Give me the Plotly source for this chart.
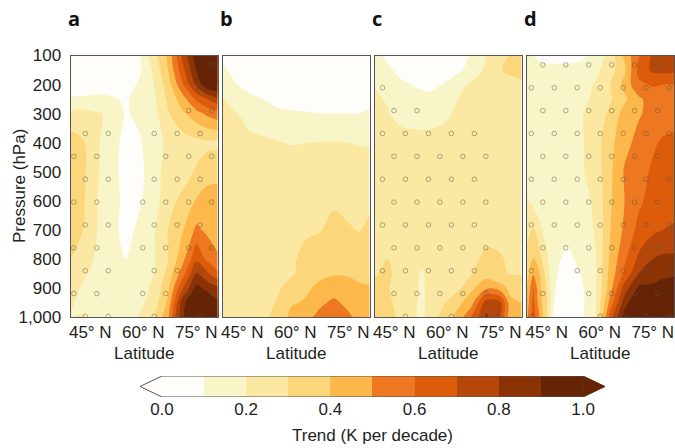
import plotly.graph_objects as go

W, H = 675, 448
FONT = "Liberation Sans"
TEXT = "#231f20"

levels = [0.0, 0.1, 0.2, 0.3, 0.4, 0.5, 0.6, 0.7, 0.8, 0.9, 1.0]
colors = ["#FFFDFA", "#F8F6C8", "#FBE9A3", "#FCD67A", "#FCB84A",
          "#EE7722", "#DD5C0B", "#B5470A", "#8C3306", "#642405"]
bin_mid = [0.05, 0.15, 0.25, 0.35, 0.45, 0.55, 0.65, 0.75, 0.85, 0.95]
bar_ticks = [0.0, 0.2, 0.4, 0.6, 0.8, 1.0]

pressure = [100, 150, 200, 250, 300, 400, 500, 600, 700, 800, 850, 900, 950, 1000]
pressure_ticks = [100, 200, 300, 400, 500, 600, 700, 800, 900, 1000]
pressure_labels = ["100", "200", "300", "400", "500", "600", "700", "800", "900", "1,000"]
lat = [39.4, 43, 47, 51, 55, 59, 63, 67, 71, 75, 78, 81]
lat_c = [39.4, 43, 47, 51, 52.55, 55, 59, 63, 67, 71, 75, 78, 81]
lat_d = [39.4, 41.2, 43, 44.9, 47, 51, 55, 59, 63, 67, 71, 75, 78, 81]
lat_ticks = [45, 60, 75]
lat_labels = ["45° N", "60° N", "75° N"]

trend_a = [
    [.05, .03, .03, .03, .05, .09, .27, .42, .72, .95, 1.05, 1.1],
    [.05, .04, .04, .04, .05, .09, .22, .40, .66, .90, 1.05, 1.1],
    [.07, .06, .06, .06, .07, .11, .20, .35, .58, .82, .98, 1.0],
    [.11, .11, .12, .11, .09, .13, .18, .32, .45, .62, .70, .78],
    [.23, .24, .21, .18, .09, .12, .17, .29, .38, .46, .52, .56],
    [.35, .31, .21, .15, .06, .09, .16, .22, .25, .27, .28, .28],
    [.36, .32, .21, .14, .06, .07, .17, .23, .26, .31, .34, .36],
    [.35, .31, .20, .13, .08, .09, .15, .27, .32, .41, .46, .46],
    [.33, .30, .20, .13, .07, .12, .19, .30, .39, .52, .48, .44],
    [.30, .25, .18, .12, .10, .14, .19, .30, .46, .68, .58, .52],
    [.27, .22, .16, .12, .12, .15, .20, .33, .55, .80, .72, .62],
    [.25, .18, .15, .13, .13, .16, .22, .38, .68, .93, .87, .82],
    [.22, .16, .14, .12, .13, .17, .25, .42, .85, 1.05, 1.0, .92],
    [.20, .21, .16, .14, .13, .21, .29, .48, .88, 1.05, 1.1, 1.0],
]
trend_b = [
    [.07, .03, .02, .02, .02, .02, .02, .03, .03, .03, .03, .03],
    [.12, .07, .05, .04, .04, .04, .04, .04, .04, .03, .03, .04],
    [.16, .105, .07, .05, .05, .05, .05, .05, .05, .06, .06, .06],
    [.205, .15, .12, .10, .07, .07, .07, .07, .07, .08, .08, .08],
    [.23, .21, .16, .13, .12, .11, .105, .10, .10, .10, .10, .11],
    [.25, .24, .23, .22, .205, .195, .20, .203, .205, .20, .195, .19],
    [.26, .26, .26, .25, .25, .25, .25, .25, .25, .25, .25, .25],
    [.26, .26, .26, .26, .26, .26, .26, .27, .28, .27, .27, .28],
    [.26, .26, .26, .26, .27, .28, .29, .295, .34, .31, .295, .32],
    [.26, .26, .27, .27, .28, .29, .32, .35, .37, .37, .37, .37],
    [.26, .26, .27, .27, .285, .29, .33, .38, .39, .39, .385, .38],
    [.27, .27, .27, .28, .29, .33, .385, .42, .45, .43, .41, .405],
    [.27, .27, .27, .28, .305, .39, .41, .48, .52, .47, .44, .43],
    [.27, .27, .27, .28, .33, .43, .47, .53, .58, .52, .47, .44],
]
trend_c = [
    [.14, .08, .05, .04, .04, .04, .05, .07, .11, .20, .26, .31, .34],
    [.15, .12, .07, .05, .05, .04, .05, .08, .14, .22, .295, .32, .34],
    [.195, .16, .115, .095, .09, .07, .105, .17, .22, .24, .25, .27, .28],
    [.22, .19, .14, .12, .12, .13, .16, .20, .23, .24, .25, .25, .25],
    [.25, .21, .16, .14, .14, .14, .175, .22, .24, .25, .25, .25, .25],
    [.25, .25, .25, .25, .25, .25, .25, .25, .25, .25, .25, .25, .25],
    [.25, .25, .25, .25, .25, .25, .25, .25, .25, .25, .25, .25, .25],
    [.25, .25, .25, .25, .25, .25, .25, .25, .25, .25, .25, .25, .25],
    [.25, .26, .26, .26, .26, .26, .26, .26, .26, .27, .26, .26, .26],
    [.27, .30, .27, .26, .25, .26, .27, .28, .28, .32, .31, .28, .27],
    [.29, .32, .26, .25, .18, .24, .25, .27, .30, .35, .31, .295, .295],
    [.32, .31, .25, .23, .17, .24, .26, .28, .38, .48, .44, .37, .35],
    [.33, .33, .25, .22, .165, .24, .29, .37, .47, .75, .72, .42, .40],
    [.35, .35, .27, .21, .16, .25, .34, .44, .60, .82, .70, .42, .42],
]
trend_d = [
    [.11, .10, .09, .08, .08, .08, .09, .12, .25, .42, .59, .72, .74, .74],
    [.13, .12, .115, .115, .115, .115, .12, .18, .26, .38, .63, .72, .73, .72],
    [.13, .13, .13, .13, .13, .14, .17, .21, .30, .43, .58, .61, .60, .60],
    [.17, .16, .15, .15, .15, .16, .18, .22, .29, .38, .48, .55, .55, .55],
    [.20, .17, .16, .16, .16, .17, .195, .25, .32, .44, .49, .53, .53, .55],
    [.20, .17, .16, .16, .16, .17, .19, .26, .37, .47, .53, .58, .62, .63],
    [.20, .16, .15, .15, .15, .16, .19, .25, .38, .51, .55, .62, .66, .66],
    [.21, .17, .15, .15, .15, .16, .17, .22, .39, .50, .58, .64, .67, .67],
    [.27, .31, .22, .17, .15, .14, .16, .21, .40, .52, .63, .68, .70, .71],
    [.33, .41, .33, .22, .13, .07, .14, .20, .42, .58, .72, .80, .82, .82],
    [.36, .49, .40, .26, .12, .05, .11, .20, .44, .62, .80, .85, .87, .88],
    [.40, .60, .42, .30, .11, .04, .09, .20, .46, .75, .92, .92, .95, .97],
    [.45, .63, .44, .33, .10, .04, .08, .20, .54, .85, 1.02, 1.05, 1.05, 1.05],
    [.48, .65, .50, .30, .09, .04, .09, .20, .66, .95, 1.05, 1.1, 1.1, 1.1],
]

# Significance stippling: row index k from the bottom, column index j
sig_p0, sig_dp = 998, 78.7
sig_dlat = 3.25
sig_lat0 = {"a": 40.34, "c": 41.66, "d": 40.62}
sig_a = {11: [12], 10: [11], 9: [10, 12], 8: [1, 3, 7, 9, 11], 7: [0, 2, 8, 10, 12],
         6: [1, 3, 7, 9, 11], 5: [0, 2, 6, 8, 10, 12], 4: [1, 3, 7, 9, 11],
         3: [0, 2, 6, 8, 10, 12], 2: [1, 3, 7, 9, 11], 1: [0, 2, 6, 8, 10, 12],
         0: [1, 3, 7, 9, 11]}
sig_c = {10: [0], 9: [1, 3], 8: [0, 2, 4, 6, 8], 7: [1, 3, 5, 7, 9], 6: [0, 2, 4, 6, 8],
         5: [1, 3, 5, 7, 9], 4: [0, 2, 4, 6, 8], 3: [1, 3, 5, 7, 9], 2: [0, 2, 4, 6, 8],
         1: [1, 3, 5, 7, 9], 0: [2, 6, 8, 10]}
sig_d = {11: [1, 3, 5, 7, 9, 11], 10: [0, 2, 4, 6, 8, 10, 12], 9: [1, 3, 5, 7, 9, 11],
         8: [0, 2, 4, 6, 8, 10, 12], 7: [1, 3, 5, 7, 9, 11], 6: [0, 2, 4, 6, 8, 10, 12],
         5: [1, 3, 5, 7, 9, 11], 4: [0, 2, 4, 6, 8, 10, 12], 3: [1, 3, 5, 7, 9, 11],
         2: [0, 4, 6, 8, 10, 12], 1: [1, 5, 7, 9, 11], 0: [0, 6, 8, 10, 12]}

panels = [
    ("a", lat, trend_a, sig_a, 70.5, 217.5),
    ("b", lat, trend_b, None, 222.5, 369.5),
    ("c", lat_c, trend_c, sig_c, 374.5, 521.5),
    ("d", lat_d, trend_d, sig_d, 527, 674),
]
TOP, BOTTOM = 55.5, 317

scale = []
for i, c in enumerate(colors):
    scale += [[i / len(colors), c], [(i + 1) / len(colors), c]]

fig = go.Figure()
layout = {}
annotations = []
for n, (name, xs, z, sig, x0, x1) in enumerate(panels):
    sfx = "" if n == 0 else str(n + 1)
    ax, ay = "x" + sfx, "y" + sfx
    fig.add_trace(go.Contour(
        x=xs, y=pressure, z=z, xaxis=ax, yaxis=ay, zmin=0, zmax=1, colorscale=scale,
        showscale=False, hoverinfo="skip",
        contours=dict(start=0, end=1, size=0.1, coloring="fill", showlines=False),
        line=dict(width=0),
    ))
    if sig:
        px, py = [], []
        for k, js in sig.items():
            for j in js:
                px.append(sig_lat0[name] + sig_dlat * j)
                py.append(sig_p0 - sig_dp * k)
        fig.add_trace(go.Scatter(
            x=px, y=py, xaxis=ax, yaxis=ay, mode="markers", hoverinfo="skip", showlegend=False,
            marker=dict(symbol="circle-open", size=4.6, color="rgba(95,85,65,0.6)",
                        line=dict(width=0.8, color="rgba(95,85,65,0.6)")),
        ))
    layout["xaxis" + sfx] = dict(
        domain=[x0 / W, x1 / W], range=[39.4, 81], anchor=ay, tickmode="array",
        tickvals=lat_ticks, ticktext=lat_labels, ticks="", showgrid=False, zeroline=False,
        showline=True, mirror=True, linecolor="#555555", linewidth=1, automargin=False,
        tickfont=dict(family=FONT, size=17, color=TEXT),
    )
    layout["yaxis" + sfx] = dict(
        domain=[1 - BOTTOM / H, 1 - TOP / H], range=[1000, 100], anchor=ax, tickmode="array",
        tickvals=pressure_ticks, ticktext=pressure_labels if n == 0 else [""] * 10,
        ticks="", showgrid=False, zeroline=False, showline=True, mirror=True,
        linecolor="#555555", linewidth=1, ticklabelstandoff=5, automargin=False,
        tickfont=dict(family=FONT, size=17, color=TEXT),
    )
    annotations.append(dict(
        text="<b>%s</b>" % name, xref="paper", yref="paper", x=(x0 - 5) / W, y=1 - 18.5 / H,
        xanchor="left", yanchor="middle", showarrow=False,
        font=dict(family="Open Sans", size=20, color="#111111"),
    ))
    annotations.append(dict(
        text="Latitude", xref="paper", yref="paper", x=(x0 + x1) / 2 / W, y=1 - 353 / H,
        xanchor="center", yanchor="middle", showarrow=False,
        font=dict(family=FONT, size=17, color=TEXT),
    ))
annotations.append(dict(
    text="Pressure (hPa)", xref="paper", yref="paper", x=19 / W, y=1 - 186 / H, textangle=-90,
    xanchor="center", yanchor="middle", showarrow=False,
    font=dict(family=FONT, size=17, color=TEXT),
))
annotations.append(dict(
    text="Trend (K per decade)", xref="paper", yref="paper", x=372.5 / W, y=1 - 435 / H,
    xanchor="center", yanchor="middle", showarrow=False,
    font=dict(family=FONT, size=17, color=TEXT),
))

# Colour bar as its own small axes
BX0, BX1, BY0, BY1 = 140, 605, 376, 397
tip = (162 - 140) / 422
fig.add_trace(go.Heatmap(
    x=levels, y=[0, 1], z=[bin_mid], xaxis="x5", yaxis="y5", zmin=0, zmax=1,
    colorscale=scale, showscale=False, hoverinfo="skip",
))
fig.add_trace(go.Scatter(
    x=[0, -tip, 0], y=[0, 0.5, 1], xaxis="x5", yaxis="y5", mode="lines", fill="toself",
    fillcolor=colors[0], line=dict(color="#555555", width=1), hoverinfo="skip", showlegend=False,
))
fig.add_trace(go.Scatter(
    x=[1, 1 + tip, 1, 1], y=[0, 0.5, 1, 0], xaxis="x5", yaxis="y5", mode="lines", fill="toself",
    fillcolor=colors[-1], line=dict(color=colors[-1], width=1), hoverinfo="skip", showlegend=False,
))
fig.add_trace(go.Scatter(
    x=[0, 1, None, 0, 1], y=[0, 0, None, 1, 1], xaxis="x5", yaxis="y5", mode="lines",
    line=dict(color="#555555", width=1), hoverinfo="skip", showlegend=False,
))
layout["xaxis5"] = dict(
    domain=[BX0 / W, BX1 / W], range=[-tip, 1 + tip], anchor="y5", tickmode="array",
    tickvals=bar_ticks, ticktext=["%.1f" % t for t in bar_ticks], ticks="", showgrid=False,
    zeroline=False, showline=False, automargin=False, tickfont=dict(family=FONT, size=17, color=TEXT),
)
layout["yaxis5"] = dict(
    domain=[1 - BY1 / H, 1 - BY0 / H], range=[0, 1], anchor="x5", showticklabels=False,
    ticks="", showgrid=False, zeroline=False, showline=False, automargin=False,
)

fig.update_layout(
    width=W, height=H, margin=dict(l=0, r=0, t=0, b=0), paper_bgcolor="white",
    plot_bgcolor="white", showlegend=False, annotations=annotations, **layout,
)
fig.write_html("out.html", config={"displayModeBar": False},
               post_script="document.body.style.margin='0';")
